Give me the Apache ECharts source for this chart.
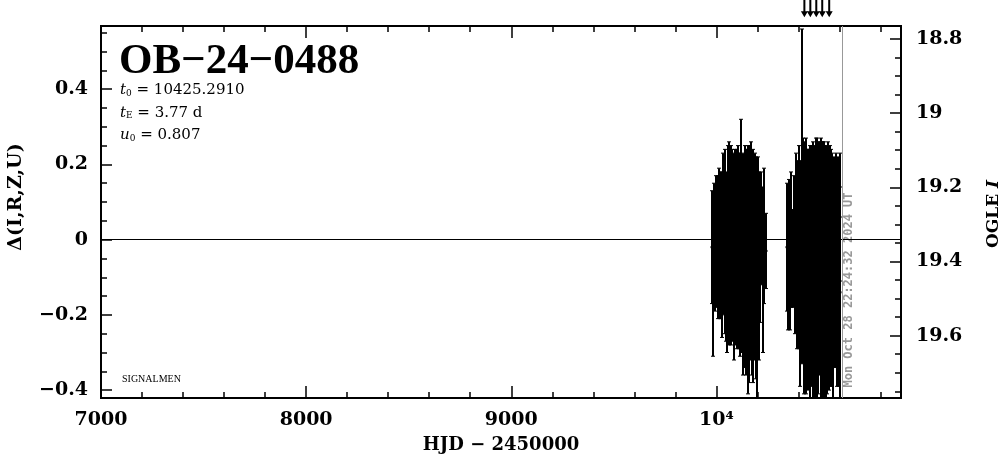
<!DOCTYPE html>
<html><head><meta charset="utf-8">
<script src="https://cdn.jsdelivr.net/npm/echarts@6/dist/echarts.min.js"></script>
<style>html,body{margin:0;padding:0;background:#fff}#c{width:1004px;height:459px}</style>
</head><body><div id="c"></div>
<script>
// ---- texts ----
const eventName = 'OB\u221224\u22120488';
const xName = 'HJD \u2212 2450000';
const yLeftName = '\u0394(I,R,Z,U)';
const dateText = 'Mon Oct 28 22:24:32 2024 UT';
const creditText = 'SIGNALMEN';

// ---- axis ranges & ticks ----
const xMin = 7000, xMax = 10900;
const dMin = -0.421, dMax = 0.568;
const magMin = 18.765, magMax = 19.768;
const xMajorTicks = [7000, 8000, 9000, 10000];
const xMinorTicks = [7200, 7400, 7600, 7800, 8200, 8400, 8600, 8800, 9200, 9400, 9600, 9800, 10200, 10400, 10600, 10800];
const dMajorTicks = [-0.4, -0.2, 0, 0.2, 0.4];
const dMinorTicks = [-0.35, -0.3, -0.25, -0.15, -0.1, -0.05, 0.05, 0.1, 0.15, 0.25, 0.3, 0.35, 0.45, 0.5, 0.55];
const magMajorTicks = [18.8, 19, 19.2, 19.4, 19.6];
const magMinorTicks = [18.85, 18.9, 18.95, 19.05, 19.1, 19.15, 19.25, 19.3, 19.35, 19.45, 19.5, 19.55, 19.65, 19.7, 19.75];

// ---- data: season 1 ----
const s1Hjd = [9976.8, 9981.2, 9986.0, 9991.5, 9997.3, 10003.1, 10006.4, 10009.8, 10012.3, 10015.9,
 10018.2, 10021.7, 10024.1, 10027.6, 10030.2, 10033.8, 10036.1, 10039.7, 10042.3, 10045.9,
 10048.4, 10051.8, 10054.2, 10057.6, 10060.3, 10063.9, 10066.4, 10069.7, 10072.1, 10075.8,
 10078.3, 10081.6, 10084.2, 10087.9, 10090.5, 10093.7, 10096.2, 10099.8, 10102.4, 10105.6,
 10108.1, 10111.7, 10114.3, 10117.8, 10121.4, 10124.2, 10127.6, 10130.1, 10133.8, 10136.3,
 10139.9, 10142.5, 10145.7, 10148.2, 10151.8, 10154.4, 10157.6, 10160.1, 10163.7, 10166.3,
 10169.9, 10172.4, 10175.8, 10178.2, 10181.6, 10184.3, 10187.9, 10191.5, 10195.2, 10199.7,
 10204.1, 10208.6, 10213.8, 10219.4, 10225.3, 10232.7, 10241.2];
const s1Dmag = [-0.02, -0.13, 0.03, -0.08, 0.04, -0.04, 0.01, -0.06, 0.03, -0.03,
 0.06, -0.05, 0.0, -0.09, 0.04, -0.03, 0.01, -0.07, 0.05, -0.05,
 0.01, -0.1, 0.02, -0.02, 0.06, -0.07, 0.03, -0.04, 0.05, -0.08,
 0.01, -0.03, 0.05, -0.11, -0.01, 0.04, -0.06, 0.0, -0.09, 0.06,
 -0.03, 0.02, -0.08, -0.01, 0.09, -0.05, 0.03, -0.12, 0.0, -0.07,
 0.05, -0.1, 0.01, -0.04, 0.04, -0.14, -0.02, -0.08, 0.03, -0.06,
 -0.01, -0.11, 0.02, -0.07, -0.01, -0.05, 0.04, -0.09, -0.02, -0.13,
 0.01, -0.07, -0.03, 0.03, -0.08, 0.01, -0.03];
const s1Err = [0.15, 0.18, 0.12, 0.11, 0.13, 0.14, 0.16, 0.15, 0.16, 0.18,
 0.12, 0.16, 0.18, 0.17, 0.19, 0.15, 0.21, 0.18, 0.19, 0.22,
 0.17, 0.2, 0.23, 0.18, 0.2, 0.21, 0.16, 0.24, 0.2, 0.19,
 0.23, 0.2, 0.18, 0.21, 0.25, 0.19, 0.22, 0.24, 0.2, 0.19,
 0.26, 0.21, 0.23, 0.22, 0.23, 0.25, 0.2, 0.24, 0.22, 0.27,
 0.2, 0.26, 0.23, 0.28, 0.21, 0.27, 0.24, 0.3, 0.22, 0.26,
 0.27, 0.25, 0.2, 0.31, 0.23, 0.27, 0.19, 0.28, 0.24, 0.3,
 0.21, 0.25, 0.19, 0.15, 0.22, 0.18, 0.1];

// ---- data: season 2 ----
const s2Hjd = [10345.6, 10349.2, 10353.8, 10358.3, 10364.7, 10371.1, 10378.5, 10384.2, 10389.6, 10393.1,
 10396.8, 10400.4, 10403.9, 10407.2, 10410.6, 10413.3, 10416.1, 10418.7, 10421.5, 10424.2,
 10426.8, 10429.4, 10432.1, 10434.7, 10437.3, 10440.2, 10442.8, 10445.4, 10448.1, 10450.7,
 10453.4, 10456.2, 10458.8, 10461.5, 10464.1, 10466.9, 10469.6, 10472.3, 10475.1, 10477.8,
 10480.4, 10483.2, 10485.9, 10488.6, 10491.3, 10494.1, 10496.8, 10499.5, 10502.2, 10505.0,
 10507.7, 10510.4, 10513.2, 10515.9, 10518.7, 10521.4, 10524.2, 10527.0, 10529.8, 10532.6,
 10535.4, 10538.2, 10541.1, 10544.0, 10546.9, 10549.8, 10552.8, 10555.9, 10559.1, 10562.4,
 10565.8, 10569.5, 10573.4, 10577.6, 10582.1, 10586.9, 10591.8, 10596.7, 10601.5, 10604.2];
const s2Dmag = [-0.02, -0.08, 0.03, -0.1, 0.0, -0.05, 0.05, -0.05, 0.01, -0.1,
 -0.03, -0.08, 0.02, -0.14, -0.01, -0.06, 0.12, -0.09, 0.0, -0.05,
 -0.13, 0.03, -0.08, -0.03, -0.15, 0.05, -0.06, 0.0, -0.1, -0.04,
 0.02, -0.13, -0.01, -0.08, 0.05, -0.05, -0.15, 0.01, -0.07, -0.02,
 -0.12, 0.03, -0.08, -0.04, -0.14, 0.0, -0.1, 0.04, -0.06, -0.01,
 -0.12, 0.01, -0.08, -0.04, -0.15, 0.02, -0.07, -0.02, -0.11, 0.0,
 -0.13, -0.03, -0.09, 0.03, -0.06, -0.12, -0.01, -0.08, 0.02, -0.1,
 -0.03, -0.13, 0.01, -0.07, 0.03, -0.11, -0.02, -0.09, 0.06, -0.14];
const s2Err = [0.17, 0.16, 0.13, 0.14, 0.18, 0.13, 0.12, 0.2, 0.22, 0.19,
 0.24, 0.21, 0.23, 0.25, 0.22, 0.26, 0.44, 0.24, 0.27, 0.25,
 0.28, 0.23, 0.27, 0.3, 0.26, 0.19, 0.29, 0.24, 0.3, 0.27,
 0.22, 0.29, 0.26, 0.31, 0.2, 0.28, 0.27, 0.25, 0.32, 0.23,
 0.3, 0.24, 0.29, 0.31, 0.28, 0.25, 0.31, 0.22, 0.3, 0.27,
 0.31, 0.26, 0.29, 0.3, 0.28, 0.24, 0.32, 0.28, 0.31, 0.25,
 0.3, 0.27, 0.32, 0.23, 0.3, 0.28, 0.26, 0.31, 0.22, 0.29,
 0.26, 0.3, 0.21, 0.27, 0.2, 0.28, 0.24, 0.3, 0.17, 0.28];

// ---- other marks ----
const arrowHjd = [10429, 10458, 10487, 10516, 10550];
const arrowLevel = 0.615;
const markerPoint = [10779, 0.513];
const nowHjd = 10612.43;

const SERIF = '"DejaVu Serif", serif';
const errData = [];
s1Hjd.forEach((x, i) => errData.push([x, s1Dmag[i], s1Err[i]]));
s2Hjd.forEach((x, i) => errData.push([x, s2Dmag[i], s2Err[i]]));

const minus = v => String(v).replace('-', '\u2212');
const labelStyle = { color: '#000', fontFamily: SERIF, fontWeight: 'bold', fontSize: 19 };

function xAxisDef(pos, ticks, len, showLabel) {
  return {
    type: 'value', gridIndex: 0, position: pos, min: xMin, max: xMax,
    axisLine: { show: true, onZero: false, lineStyle: { color: '#000', width: 2 } },
    axisTick: { show: true, inside: true, length: len, customValues: ticks, lineStyle: { color: '#000', width: 1.5 } },
    axisLabel: showLabel ? Object.assign({ show: true, customValues: ticks, margin: 13,
      formatter: v => v === 10000 ? '10\u2074' : String(v) }, labelStyle) : { show: false },
    splitLine: { show: false },
    name: showLabel ? xName : '', nameLocation: 'middle', nameGap: 38,
    nameTextStyle: { color: '#000', fontFamily: SERIF, fontWeight: 'bold', fontSize: 18 }
  };
}
function yAxisDef(pos, lo, hi, inv, ticks, len, showLabel, fmt, margin) {
  return {
    type: 'value', gridIndex: 0, position: pos, min: lo, max: hi, inverse: inv,
    axisLine: { show: true, onZero: false, lineStyle: { color: '#000', width: 2 } },
    axisTick: { show: true, inside: true, length: len, customValues: ticks, lineStyle: { color: '#000', width: 1.5 } },
    axisLabel: showLabel ? Object.assign({ show: true, customValues: ticks, margin: margin, formatter: fmt }, labelStyle) : { show: false },
    splitLine: { show: false }
  };
}

const chart = echarts.init(document.getElementById('c'), null, { renderer: 'canvas' });
chart.setOption({
  animation: false,
  backgroundColor: '#fff',
  grid: { left: 101, right: 103, top: 26, bottom: 57, containLabel: false },
  title: [
    { text: eventName, left: 119, top: 40, padding: 0,
      textStyle: { fontFamily: '"Liberation Serif", serif', fontWeight: 'bold', fontSize: 43, color: '#000' } },
    { text: '{i|t}{s|0}{n| = 10425.2910}\n{i|t}{s|E}{n| = 3.77 d}\n{i|u}{s|0}{n| = 0.807}',
      left: 120, top: 79, padding: 0,
      textStyle: { lineHeight: 22.5, fontWeight: 'normal', rich: {
        i: { fontFamily: SERIF, fontStyle: 'italic', fontWeight: 'normal', fontSize: 15, color: '#000', lineHeight: 22.5 },
        s: { fontFamily: SERIF, fontWeight: 'normal', fontSize: 9, color: '#000', padding: [6, 0, 0, 0], lineHeight: 22.5 },
        n: { fontFamily: SERIF, fontWeight: 'normal', fontSize: 15, color: '#000', lineHeight: 22.5 }
      } } }
  ],
  xAxis: [
    xAxisDef('bottom', xMajorTicks, 12, true),
    xAxisDef('bottom', xMinorTicks, 6, false),
    xAxisDef('top', xMajorTicks, 12, false),
    xAxisDef('top', xMinorTicks, 6, false)
  ],
  yAxis: [
    yAxisDef('left', dMin, dMax, false, dMajorTicks, 11, true, minus, 13),
    yAxisDef('left', dMin, dMax, false, dMinorTicks, 6, false),
    yAxisDef('right', magMin, magMax, true, magMajorTicks, 11, true, v => String(v), 15),
    yAxisDef('right', magMin, magMax, true, magMinorTicks, 6, false)
  ],
  series: [
    {
      type: 'custom', xAxisIndex: 0, yAxisIndex: 0, clip: true, silent: true,
      data: errData,
      renderItem: function (params, api) {
        const x = api.value(0), y = api.value(1), e = api.value(2);
        const t = api.coord([x, y + e]), b = api.coord([x, y - e]), m = api.coord([x, y]);
        const px = Math.round(t[0]);
        const st = { stroke: '#000', lineWidth: 2 };
        return { type: 'group', children: [
          { type: 'line', shape: { x1: px, y1: t[1], x2: px, y2: b[1] }, style: st },
          { type: 'line', shape: { x1: px - 2, y1: t[1], x2: px + 2, y2: t[1] }, style: { stroke: '#000', lineWidth: 1 } },
          { type: 'line', shape: { x1: px - 2, y1: b[1], x2: px + 2, y2: b[1] }, style: { stroke: '#000', lineWidth: 1 } },
          { type: 'rect', shape: { x: px - 1.5, y: m[1] - 1, width: 3, height: 2 }, style: { fill: '#000' } }
        ] };
      }
    },
    {
      type: 'scatter', xAxisIndex: 0, yAxisIndex: 0, clip: false, silent: true,
      data: arrowHjd.map(x => [x, arrowLevel]),
      symbol: 'path://M2.5,0 L4.5,0 L4.5,12 L7,12 L3.5,18 L0,12 L2.5,12 Z',
      symbolSize: [7, 18], itemStyle: { color: '#000', opacity: 1 }
    },
    {
      type: 'scatter', xAxisIndex: 0, yAxisIndex: 0, silent: true,
      data: [markerPoint], symbol: 'emptyCircle', symbolSize: 6,
      itemStyle: { color: '#fff', borderColor: '#000', borderWidth: 2, opacity: 1 },
      markLine: { silent: true, symbol: 'none', label: { show: false }, animation: false,
        data: [
          { yAxis: 0, lineStyle: { color: '#000', width: 1, type: 'solid' } },
          { xAxis: nowHjd, lineStyle: { color: '#999', width: 1, type: 'solid' } }
        ] }
    }
  ],
  graphic: [
    { type: 'text', x: 16, y: 197, rotation: Math.PI / 2,
      style: { text: yLeftName, fill: '#000', font: 'bold 19px "DejaVu Serif"', textAlign: 'center', textVerticalAlign: 'middle' } },
    { type: 'text', x: 994, y: 214, rotation: Math.PI / 2,
      style: { text: '{a|OGLE }{b|I}', textAlign: 'center', textVerticalAlign: 'middle',
        rich: { a: { fill: '#000', fontFamily: 'DejaVu Serif', fontWeight: 'bold', fontSize: 17 },
                b: { fill: '#000', fontFamily: 'DejaVu Serif', fontWeight: 'bold', fontStyle: 'italic', fontSize: 17 } } } },
    { type: 'text', x: 849, y: 290, rotation: Math.PI / 2,
      style: { text: dateText, fill: '#999', font: 'bold 12px "DejaVu Sans Mono"', textAlign: 'center', textVerticalAlign: 'middle' } },
    { type: 'text', x: 122, y: 379,
      style: { text: creditText, fill: '#000', font: '10px "Liberation Serif"', textAlign: 'left', textVerticalAlign: 'middle' } }
  ]
});
</script>
</body></html>
